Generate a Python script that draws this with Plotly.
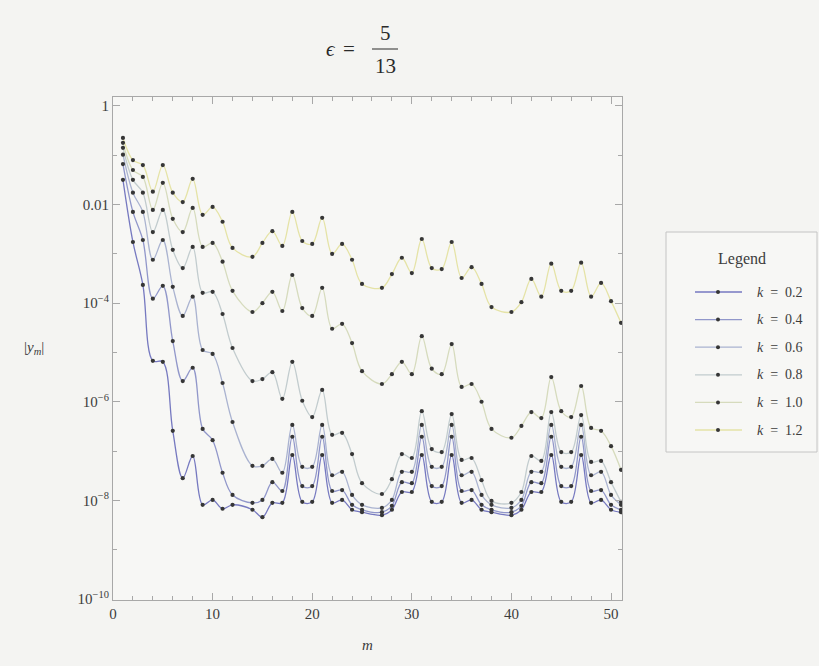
import plotly.graph_objects as go

# Mode index m (data exists for m = 1..51; m = 13, 26, 39 have no value)
m_values = list(range(1, 52))
k_values = [0.2, 0.4, 0.6, 0.8, 1.0, 1.2]

# log10 |y_m| for each k
log_y_k02 = [-1.50, -2.76, -3.63, -5.17, -5.19, -6.59, -7.55, -7.10, -8.09, -7.99,
             -8.17, -8.09, None, -8.19, -8.34, -8.05, -8.05, -7.08, -8.03, -8.03,
             -7.08, -8.05, -7.99, -8.19, -8.24, None, -8.30, -8.19, -7.83, -7.83,
             -7.08, -8.03, -8.03, -7.08, -8.05, -7.99, -8.19, -8.24, None, -8.30,
             -8.19, -7.83, -7.83, -7.08, -8.03, -8.03, -7.08, -8.05, -7.99, -8.19,
             -8.24]
log_y_k04 = [-1.18, -2.15, -2.72, -3.91, -3.65, -4.77, -5.58, -5.31, -6.55, -6.78,
             -7.44, -7.89, None, -8.05, -7.99, -7.63, -7.81, -6.71, -7.71, -7.71,
             -6.71, -7.81, -7.79, -8.09, -8.19, None, -8.24, -8.11, -7.63, -7.65,
             -6.71, -7.71, -7.71, -6.71, -7.81, -7.79, -8.09, -8.19, None, -8.24,
             -8.11, -7.63, -7.65, -6.71, -7.71, -7.71, -6.71, -7.81, -7.79, -8.09,
             -8.19]
log_y_k06 = [-0.99, -1.76, -2.15, -3.12, -2.72, -3.67, -4.26, -3.87, -4.95, -5.03,
             -5.62, -6.41, None, -7.30, -7.30, -7.16, -7.44, -6.47, -7.32, -7.32,
             -6.47, -7.49, -7.42, -7.89, -8.09, None, -8.15, -7.99, -7.42, -7.42,
             -6.47, -7.32, -7.32, -6.47, -7.49, -7.42, -7.89, -8.09, None, -8.15,
             -7.99, -7.42, -7.42, -6.47, -7.32, -7.32, -6.47, -7.49, -7.42, -7.89,
             -8.09]
log_y_k08 = [-0.85, -1.50, -1.76, -2.56, -2.11, -2.92, -3.29, -2.86, -3.79, -3.77,
             -4.22, -4.91, None, -5.58, -5.54, -5.40, -5.94, -5.19, -5.98, -6.31,
             -5.76, -6.67, -6.63, -7.06, -7.65, None, -7.87, -7.57, -7.06, -7.14,
             -6.19, -6.96, -7.02, -6.25, -7.18, -7.14, -7.59, -8.01, None, -8.05,
             -7.83, -7.10, -7.20, -6.21, -7.02, -7.02, -6.27, -7.22, -7.20, -7.63,
             -8.03]
log_y_k10 = [-0.75, -1.30, -1.44, -2.11, -1.56, -2.29, -2.56, -2.07, -2.86, -2.78,
             -3.16, -3.75, None, -4.18, -4.00, -3.77, -4.16, -3.43, -4.10, -4.26,
             -3.69, -4.52, -4.42, -4.81, -5.38, None, -5.64, -5.44, -5.19, -5.44,
             -4.67, -5.33, -5.44, -4.83, -5.70, -5.64, -6.00, -6.55, None, -6.73,
             -6.49, -6.21, -6.33, -5.50, -6.19, -6.31, -5.68, -6.53, -6.59, -6.90,
             -7.38]
log_y_k12 = [-0.65, -1.10, -1.20, -1.74, -1.20, -1.76, -1.95, -1.48, -2.21, -2.05,
             -2.35, -2.88, None, -3.06, -2.78, -2.54, -2.84, -2.15, -2.74, -2.80,
             -2.27, -3.00, -2.80, -3.12, -3.61, None, -3.69, -3.41, -3.08, -3.39,
             -2.70, -3.29, -3.31, -2.76, -3.49, -3.27, -3.61, -4.08, None, -4.18,
             -3.98, -3.51, -3.87, -3.20, -3.75, -3.75, -3.18, -3.87, -3.59, -3.96,
             -4.40]

series_logs = [log_y_k02, log_y_k04, log_y_k06, log_y_k08, log_y_k10, log_y_k12]
line_colors = ["#7679c0", "#9197ca", "#aab3d0", "#c2ccce", "#d6dbbd", "#e5e3a6"]

y_tick_vals = [1, 1e-2, 1e-4, 1e-6, 1e-8, 1e-10]
y_tick_text = ["1", "0.01", "10<sup>\u22124</sup>", "10<sup>\u22126</sup>",
               "10<sup>\u22128</sup>", "10<sup>\u221210</sup>"]
x_tick_vals = [0, 10, 20, 30, 40, 50]

# Page geometry (pixels)
W, H = 819, 666
L, R, T, B = 113, 197, 97, 66
PW, PH = W - L - R, H - T - B


def paper_x(px):
    return (px - L) / PW


def paper_y(py):
    return (H - B - py) / PH


SERIF = "Liberation Serif, Times New Roman, serif"
DOT = "#363636"
TEXT = "#3c3c3c"

fig = go.Figure()

for logs, col in zip(series_logs, line_colors):
    ys = [None if v is None else 10 ** v for v in logs]
    fig.add_trace(go.Scatter(
        x=m_values, y=ys, mode="lines", connectgaps=True,
        line=dict(color=col, width=1.3, shape="spline", smoothing=1.0),
        hoverinfo="skip", showlegend=False))

for logs in series_logs:
    ys = [None if v is None else 10 ** v for v in logs]
    fig.add_trace(go.Scatter(
        x=m_values, y=ys, mode="markers",
        marker=dict(color=DOT, size=4.2, line=dict(width=0)),
        hoverinfo="skip", showlegend=False))

frame = "#a8a8a8"
fig.update_xaxes(
    range=[0, 51.1], showgrid=False, zeroline=False,
    showline=True, linecolor=frame, linewidth=1, mirror="allticks",
    ticks="inside", ticklen=7, tickcolor=frame, tickwidth=1,
    tickvals=x_tick_vals, ticktext=[str(v) for v in x_tick_vals],
    tickfont=dict(family=SERIF, size=15, color=TEXT),
    minor=dict(ticks="inside", ticklen=4, dtick=2, tickcolor=frame, showgrid=False))
fig.update_yaxes(
    type="log", range=[-10.02, 0.18], showgrid=False, zeroline=False,
    showline=True, linecolor=frame, linewidth=1, mirror="allticks",
    ticks="inside", ticklen=7, tickcolor=frame, tickwidth=1,
    tickvals=y_tick_vals, ticktext=y_tick_text,
    tickfont=dict(family=SERIF, size=15, color=TEXT),
    minor=dict(ticks="inside", ticklen=4, tickcolor=frame, showgrid=False,
               tickvals=[1e-1, 1e-3, 1e-5, 1e-7, 1e-9]))

annotations = []
shapes = []


def label(px, py, text, size, color=TEXT, xanchor="center"):
    annotations.append(dict(
        x=paper_x(px), y=paper_y(py), xref="paper", yref="paper",
        xanchor=xanchor, yanchor="middle", text=text, showarrow=False,
        font=dict(family=SERIF, size=size, color=color)))


# Title: epsilon = 5/13
title_color = "#2a2a2a"
label(331, 49, "<i>\u03f5</i>", 21, title_color)
label(349, 49, "=", 21, title_color)
label(385, 33, "5", 21, title_color)
label(385, 66, "13", 21, title_color)
shapes.append(dict(type="line", xref="paper", yref="paper",
                   x0=paper_x(372), x1=paper_x(398), y0=paper_y(49), y1=paper_y(49),
                   line=dict(color=title_color, width=1)))

# Axis labels
label(367, 645, "<i>m</i>", 15)
label(34, 348, "|<i>y</i><sub><i>m</i></sub>|", 15)

# Legend box
shapes.append(dict(type="rect", xref="paper", yref="paper",
                   x0=paper_x(666), x1=paper_x(817), y0=paper_y(452), y1=paper_y(232),
                   line=dict(color="#c4c4c4", width=1), fillcolor="#f7f7f5"))
label(742, 259, "Legend", 16)
for i, (k, col) in enumerate(zip(k_values, line_colors)):
    py = 292 + 27.6 * i
    yy = paper_y(py)
    shapes.append(dict(type="line", xref="paper", yref="paper",
                       x0=paper_x(695), x1=paper_x(742), y0=yy, y1=yy,
                       line=dict(color=col, width=1.3)))
    shapes.append(dict(type="circle", xref="paper", yref="paper",
                       xsizemode="pixel", ysizemode="pixel",
                       xanchor=paper_x(718), yanchor=yy,
                       x0=-2.0, x1=2.0, y0=-2.0, y1=2.0,
                       line=dict(width=0), fillcolor=DOT))
    label(755, py, f"<i>k</i>\u2002=\u2002{k:.1f}", 14, xanchor="left")

fig.update_layout(
    width=W, height=H,
    margin=dict(l=L, r=R, t=T, b=B, autoexpand=False),
    paper_bgcolor="#f4f4f2", plot_bgcolor="#f7f7f5",
    annotations=annotations, shapes=shapes,
    showlegend=False,
)

fig.write_html("out.html")
